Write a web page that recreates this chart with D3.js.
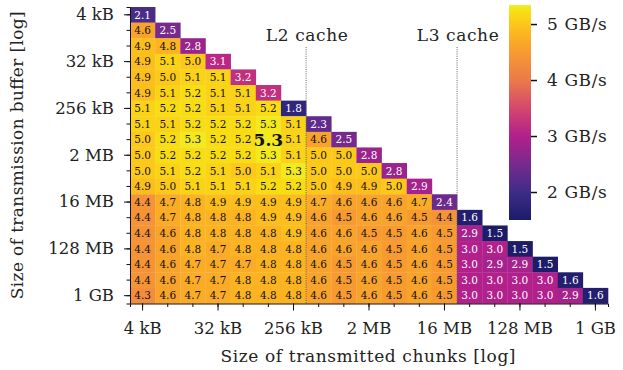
<!DOCTYPE html>
<html>
<head>
<meta charset="utf-8">
<script src="https://cdn.jsdelivr.net/npm/d3@7"></script>
<style>
  body { margin: 0; background: #fff; }
  svg text { font-family: "DejaVu Serif", "Liberation Serif", serif; fill: #222; }
</style>
</head>
<body>
<div id="chart"></div>
<script>
// buffer / chunk sizes, 4 kB .. 1 GB in powers of two
const sizes = ["4 kB", "8 kB", "16 kB", "32 kB", "64 kB", "128 kB", "256 kB", "512 kB",
  "1 MB", "2 MB", "4 MB", "8 MB", "16 MB", "32 MB", "64 MB", "128 MB", "256 MB", "512 MB", "1 GB"];
const tickSizes = ["4 kB", "32 kB", "256 kB", "2 MB", "16 MB", "128 MB", "1 GB"];

// throughput in GB/s, row = buffer size, column = chunk size (chunk <= buffer)
const throughput = [
  [2.1],
  [4.6, 2.5],
  [4.9, 4.8, 2.8],
  [4.9, 5.1, 5.0, 3.1],
  [4.9, 5.0, 5.1, 5.1, 3.2],
  [4.9, 5.1, 5.2, 5.1, 5.1, 3.2],
  [5.1, 5.2, 5.2, 5.1, 5.1, 5.2, 1.8],
  [5.1, 5.1, 5.2, 5.2, 5.2, 5.3, 5.1, 2.3],
  [5.0, 5.2, 5.3, 5.2, 5.2, 5.3, 5.1, 4.6, 2.5],
  [5.0, 5.2, 5.2, 5.2, 5.2, 5.3, 5.1, 5.0, 5.0, 2.8],
  [5.0, 5.1, 5.2, 5.1, 5.0, 5.1, 5.3, 5.0, 5.0, 5.0, 2.8],
  [4.9, 5.0, 5.1, 5.1, 5.1, 5.2, 5.2, 5.0, 4.9, 4.9, 5.0, 2.9],
  [4.4, 4.7, 4.8, 4.9, 4.9, 4.9, 4.9, 4.7, 4.6, 4.6, 4.6, 4.7, 2.4],
  [4.4, 4.7, 4.8, 4.8, 4.8, 4.9, 4.9, 4.6, 4.5, 4.6, 4.6, 4.5, 4.4, 1.6],
  [4.4, 4.6, 4.8, 4.8, 4.8, 4.8, 4.9, 4.6, 4.6, 4.5, 4.5, 4.6, 4.5, 2.9, 1.5],
  [4.4, 4.6, 4.8, 4.7, 4.8, 4.8, 4.8, 4.6, 4.6, 4.6, 4.5, 4.6, 4.5, 3.0, 3.0, 1.5],
  [4.4, 4.6, 4.7, 4.7, 4.7, 4.8, 4.8, 4.6, 4.5, 4.6, 4.5, 4.6, 4.5, 3.0, 2.9, 2.9, 1.5],
  [4.4, 4.6, 4.7, 4.7, 4.8, 4.8, 4.8, 4.6, 4.5, 4.6, 4.5, 4.6, 4.5, 3.0, 3.0, 3.0, 3.0, 1.6],
  [4.3, 4.6, 4.7, 4.7, 4.8, 4.8, 4.8, 4.6, 4.5, 4.6, 4.5, 4.6, 4.5, 3.0, 3.0, 3.0, 3.0, 2.9, 1.6]
];
const best = { row: 8, col: 5 };   // highlighted maximum

const caches = [
  { name: "L2 cache", after: "256 kB" },
  { name: "L3 cache", after: "16 MB" }
];

const cbTicks = [2, 3, 4, 5];
const cbDomain = [1.5, 5.34];
const cmapValues = [1.5, 2.0, 2.5, 3.0, 3.5, 4.0, 4.5, 4.8, 5.0, 5.2, 5.34];
const cmapColors = ["#1c1c68", "#3e2c87", "#772a8e", "#b2208b", "#d4486c", "#eb7a4a",
  "#f79b31", "#fbb322", "#fcc819", "#f8dc14", "#f0ee22"];

const W = 623, H = 370;
const mLeft = 130, mRight = 608, mTop = 7, mBottom = 303.5;

const svg = d3.select("#chart").append("svg")
  .attr("width", W).attr("height", H);

const x = d3.scaleBand().domain(sizes).range([mLeft, mRight]);
const y = d3.scaleBand().domain(sizes).range([mTop, mBottom]);
const color = d3.scaleLinear().domain(cmapValues).range(cmapColors).clamp(true);

const cells = [];
throughput.forEach((row, i) => row.forEach((v, j) => cells.push({ r: sizes[i], c: sizes[j], i, j, v })));

const g = svg.append("g");
g.selectAll("rect").data(cells).enter().append("rect")
  .attr("x", d => x(d.c)).attr("y", d => y(d.r))
  .attr("width", x.bandwidth() + 0.3).attr("height", y.bandwidth() + 0.3)
  .attr("fill", d => color(d.v));

g.selectAll("text.val").data(cells).enter().append("text")
  .attr("class", "val")
  .attr("x", d => x(d.c) + x.bandwidth() / 2)
  .attr("y", d => y(d.r) + y.bandwidth() / 2)
  .attr("dy", "0.36em")
  .attr("text-anchor", "middle")
  .style("font-size", d => (d.i === best.row && d.j === best.col) ? "17px" : "10.5px")
  .style("font-weight", d => (d.i === best.row && d.j === best.col) ? "bold" : "normal")
  .style("fill", d => d.v < 3.4 ? "#fff" : "#111")
  .text(d => d.v.toFixed(1));

// cache boundaries
caches.forEach(c => {
  const cx = x(c.after) + x.bandwidth();
  svg.append("line")
    .attr("x1", cx).attr("x2", cx).attr("y1", 47).attr("y2", mBottom)
    .attr("stroke", "#555").attr("stroke-width", 0.9).attr("stroke-dasharray", "1,1.2");
  svg.append("text")
    .attr("x", cx + 1).attr("y", 41).attr("text-anchor", "middle")
    .style("font-size", "17px").style("letter-spacing", "0.6px").text(c.name);
});

// axes
svg.append("g").attr("transform", `translate(0,${mBottom})`)
  .call(d3.axisBottom(x).tickSizeOuter(0).tickSize(3.5).tickFormat(""));
svg.append("g").attr("transform", `translate(0,${mBottom})`)
  .call(d3.axisBottom(x).tickValues(tickSizes).tickSizeOuter(0).tickSize(7).tickPadding(8))
  .call(a => a.select(".domain").remove())
  .selectAll("text").style("font-size", "16.5px").attr("dy", "0.95em");

svg.append("g").attr("transform", `translate(${mLeft},0)`)
  .call(d3.axisLeft(y).tickSizeOuter(0).tickSize(3.5).tickFormat(""));
svg.append("g").attr("transform", `translate(${mLeft},0)`)
  .call(d3.axisLeft(y).tickValues(tickSizes).tickSizeOuter(0).tickSize(6).tickPadding(10))
  .call(a => a.select(".domain").remove())
  .selectAll("text").style("font-size", "16.5px");

svg.selectAll(".domain").attr("stroke", "#111").attr("stroke-width", 1);
svg.selectAll(".tick line").attr("stroke", "#111").attr("stroke-width", 1);
svg.selectAll(".tick text").style("font-family", "DejaVu Serif").style("fill", "#222");

svg.append("text")
  .attr("x", (mLeft + mRight) / 2 - 1).attr("y", 362).attr("text-anchor", "middle")
  .attr("textLength", 295).attr("lengthAdjust", "spacing")
  .style("font-size", "17px").text("Size of transmitted chunks [log]");
svg.append("text")
  .attr("transform", `translate(23,${(mTop + mBottom) / 2}) rotate(-90)`)
  .attr("text-anchor", "middle")
  .attr("textLength", 288).attr("lengthAdjust", "spacing")
  .style("font-size", "17px").text("Size of transmission buffer [log]");

// colour bar
const cbX = 509, cbW = 22;
const cy = d3.scaleLinear().domain(cbDomain).range([220, 5]);
const grad = svg.append("defs").append("linearGradient")
  .attr("id", "cbgrad").attr("x1", 0).attr("x2", 0).attr("y1", 1).attr("y2", 0);
grad.selectAll("stop").data(d3.range(0, 1.0001, 0.02)).enter().append("stop")
  .attr("offset", t => t)
  .attr("stop-color", t => color(cbDomain[0] + t * (cbDomain[1] - cbDomain[0])));
svg.append("rect").attr("x", cbX).attr("y", cy(cbDomain[1]))
  .attr("width", cbW).attr("height", cy(cbDomain[0]) - cy(cbDomain[1]))
  .attr("fill", "url(#cbgrad)");
const cbAxis = svg.append("g").attr("transform", `translate(${cbX + cbW},0)`)
  .call(d3.axisRight(cy).tickValues(cbTicks).tickSize(6).tickPadding(10).tickFormat(d => d + " GB/s"));
cbAxis.select(".domain").remove();
cbAxis.selectAll(".tick line").attr("stroke", "#111").attr("stroke-width", 1.5);
cbAxis.selectAll("text").style("font-size", "17px").style("letter-spacing", "0.6px")
  .style("font-family", "DejaVu Serif").style("fill", "#222");
</script>
</body>
</html>
